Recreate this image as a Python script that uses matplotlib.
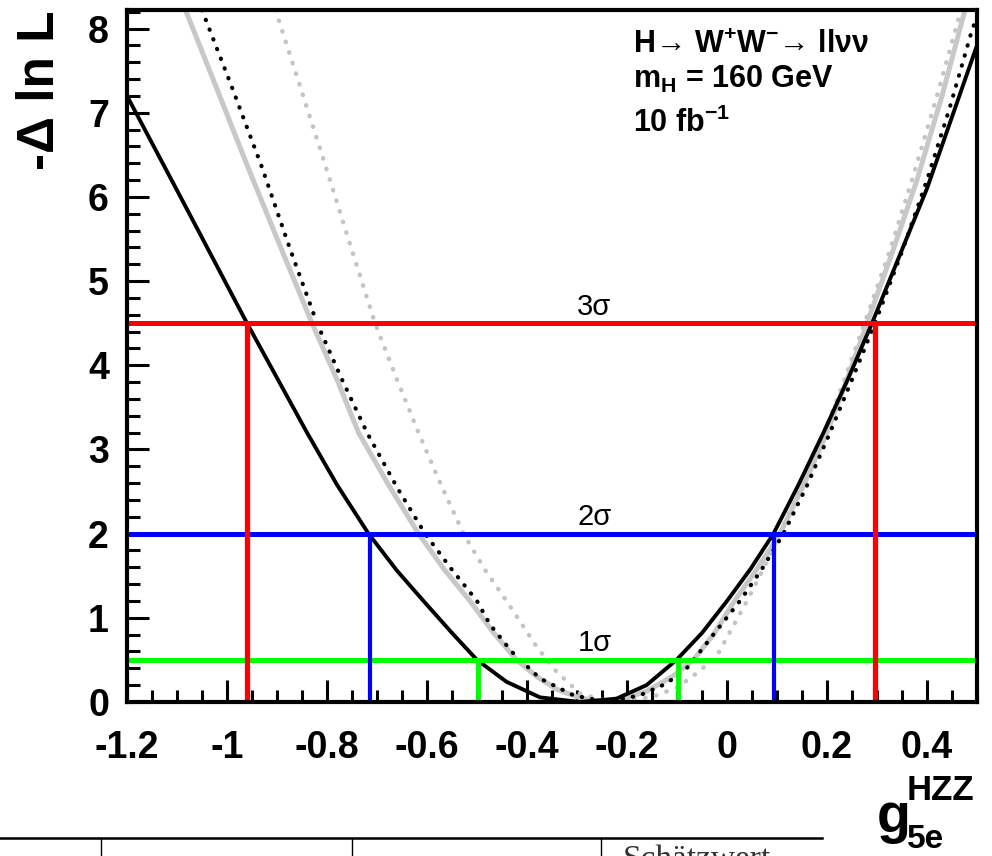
import matplotlib
matplotlib.use("Agg")
import matplotlib.pyplot as plt
from matplotlib.lines import Line2D
from matplotlib.ticker import MultipleLocator, FixedLocator

plt.rcParams['font.family'] = ['Liberation Sans', 'DejaVu Sans']
plt.rcParams['mathtext.fontset'] = 'custom'
plt.rcParams['mathtext.rm'] = 'Liberation Sans:bold'
plt.rcParams['mathtext.it'] = 'Liberation Sans:bold'
plt.rcParams['mathtext.bf'] = 'Liberation Sans:bold'
plt.rcParams['mathtext.sf'] = 'Liberation Sans:bold'

# -ln L scans
solid_x = [-1.2, -1.093, -0.96, -0.90, -0.84, -0.78, -0.717, -0.66, -0.607, -0.55,
           -0.50, -0.441, -0.374, -0.294, -0.221, -0.161, -0.101, -0.05, 0.0, 0.047,
           0.093, 0.143, 0.193, 0.243, 0.29, 0.345, 0.40, 0.45, 0.50]
solid_y = [7.2, 6.0, 4.5, 3.85, 3.2, 2.58, 2.0, 1.56, 1.2, 0.82,
           0.5, 0.24, 0.055, 0.0, 0.04, 0.20, 0.5, 0.82, 1.2, 1.58,
           2.0, 2.58, 3.2, 3.85, 4.5, 5.3, 6.1, 6.95, 7.8]

dotted_x = [-1.05, -0.99, -0.93, -0.875, -0.82, -0.77, -0.72, -0.66, -0.604, -0.55,
            -0.50, -0.474, -0.431, -0.374, -0.307, -0.241, -0.174, -0.121, -0.077, -0.03,
            0.026, 0.07, 0.113, 0.16, 0.206, 0.25, 0.296, 0.35, 0.40, 0.445, 0.49, 0.505]
dotted_y = [8.22, 7.3, 6.35, 5.4, 4.5, 3.83, 3.2, 2.55, 2.0, 1.57,
            1.2, 0.92, 0.6, 0.28, 0.08, 0.0, 0.08, 0.22, 0.42, 0.78,
            1.2, 1.58, 2.0, 2.57, 3.2, 3.83, 4.5, 5.35, 6.2, 7.05, 7.98, 8.22]

grey_x = [-1.083, -1.02, -0.958, -0.894, -0.83, -0.78, -0.737, -0.677, -0.617, -0.565,
          -0.514, -0.468, -0.421, -0.38, -0.34, -0.295, -0.25, -0.205, -0.16, -0.11,
          -0.067, -0.025, 0.015, 0.06, 0.106, 0.153, 0.20, 0.24, 0.28, 0.33, 0.38, 0.43, 0.476]
grey_y = [8.22, 7.28, 6.35, 5.42, 4.5, 3.83, 3.2, 2.58, 2.0, 1.57,
          1.2, 0.83, 0.5, 0.3, 0.15, 0.05, 0.0, 0.04, 0.13, 0.3,
          0.5, 0.82, 1.2, 1.58, 2.0, 2.57, 3.2, 3.83, 4.5, 5.33, 6.2, 7.2, 8.22]

greydot_x = [-0.903, -0.852, -0.802, -0.753, -0.704, -0.66, -0.617, -0.572, -0.527, -0.484,
             -0.441, -0.381, -0.341, -0.294, -0.235, -0.15, -0.10, -0.061, -0.021, 0.04,
             0.07, 0.105, 0.15, 0.195, 0.235, 0.275, 0.325, 0.37, 0.42, 0.468]
greydot_y = [8.22, 7.28, 6.35, 5.42, 4.5, 3.83, 3.2, 2.58, 2.0, 1.57,
             1.2, 0.66, 0.36, 0.10, 0.0, 0.06, 0.17, 0.34, 0.54, 1.2,
             1.55, 2.0, 2.57, 3.2, 3.83, 4.5, 5.35, 6.2, 7.2, 8.22]

# confidence levels and interval edges
sigma_names = ['1σ', '2σ', '3σ']
sigma_levels = [0.5, 2.0, 4.5]
sigma_lo = [-0.498, -0.714, -0.96]
sigma_hi = [-0.098, 0.094, 0.296]
sigma_colors = ['#00ff00', '#0000ff', '#ff0000']
vline_widths = [3.5, 3.0, 3.8]

xticks = [-1.2, -1.0, -0.8, -0.6, -0.4, -0.2, 0.0, 0.2, 0.4]
xticklabels = ['-1.2', '-1', '-0.8', '-0.6', '-0.4', '-0.2', '0', '0.2', '0.4']
yticks = [0, 1, 2, 3, 4, 5, 6, 7, 8]

W, H = 992, 856
fig = plt.figure(figsize=(W / 100, H / 100), dpi=100)
ax = fig.add_axes([127 / W, 1 - 702 / H, 850 / W, 692 / H])

ax.plot(grey_x, grey_y, color='#c8c8c8', lw=3.6, solid_joinstyle='round')
ax.plot(greydot_x, greydot_y, color='#c4c4c4', lw=3.2,
        linestyle=(0, (0.1, 2.4)), dash_capstyle='round')
ax.plot(dotted_x, dotted_y, color='black', lw=3.0,
        linestyle=(0, (0.1, 2.4)), dash_capstyle='round')
ax.plot(solid_x, solid_y, color='black', lw=2.8, solid_joinstyle='round')

for name, lev, lo, hi, c, w in zip(sigma_names, sigma_levels, sigma_lo, sigma_hi,
                                   sigma_colors, vline_widths):
    ax.axhline(lev, color=c, lw=3.6, zorder=4)
    ax.vlines([lo, hi], 0, lev, colors=c, lw=w, zorder=4)
    ax.text(-0.265, lev + 0.1, name, ha='center', va='baseline', fontsize=21, zorder=5)

ax.set_xlim(-1.2, 0.5)
ax.set_ylim(0, 8.22)
ax.xaxis.set_major_locator(FixedLocator(xticks))
ax.set_xticklabels(xticklabels)
ax.xaxis.set_minor_locator(MultipleLocator(0.05))
ax.set_yticks(yticks)
ax.yaxis.set_minor_locator(MultipleLocator(0.2))
ax.tick_params(which='both', direction='in', width=2.2, top=False, right=False)
ax.tick_params(which='major', length=16, labelsize=27)
ax.tick_params(which='minor', length=9)
ax.tick_params(axis='x', pad=20)
ax.tick_params(axis='y', pad=13)
for lab in ax.get_xticklabels() + ax.get_yticklabels():
    lab.set_fontweight('bold')
for s in ax.spines.values():
    s.set_linewidth(3)
    s.set_zorder(6)

# axis titles
fig.text(41 / W, 1 - 10 / H, '-Δ ln L', rotation=90, ha='center', va='top',
         fontsize=37, fontweight='bold')
fig.text(877 / W, 1 - 832 / H, 'g', ha='left', va='baseline', fontsize=40, fontweight='bold')
fig.text(907 / W, 1 - 800 / H, 'HZZ', ha='left', va='baseline', fontsize=25, fontweight='bold')
fig.text(907 / W, 1 - 848 / H, '5e', ha='left', va='baseline', fontsize=24, fontweight='bold')

# process info
fig.text(633 / W, 1 - 53 / H, 'H→ W$^{+}$W$^{-}$→ llνν', ha='left', va='baseline',
         fontsize=22, fontweight='bold')
fig.text(633 / W, 1 - 88 / H, 'm$_{\\mathrm{H}}$ = 160 GeV', ha='left', va='baseline',
         fontsize=22, fontweight='bold')
fig.text(633 / W, 1 - 132 / H, '10 fb$^{-1}$', ha='left', va='baseline',
         fontsize=22, fontweight='bold')

# piece of the table below the figure
yl = 1 - 838 / H
fig.add_artist(Line2D([0, 822 / W], [yl, yl], transform=fig.transFigure, color='black', lw=1.8))
for xp in [101, 352, 601]:
    fig.add_artist(Line2D([xp / W, xp / W], [yl, 0], transform=fig.transFigure,
                          color='black', lw=1.0))
fig.text(623 / W, 1 - 844 / H, 'Schätzwert', ha='left', va='top', fontsize=24,
         family='Liberation Serif', color='#333333')

fig.savefig('out.png', dpi=100)
